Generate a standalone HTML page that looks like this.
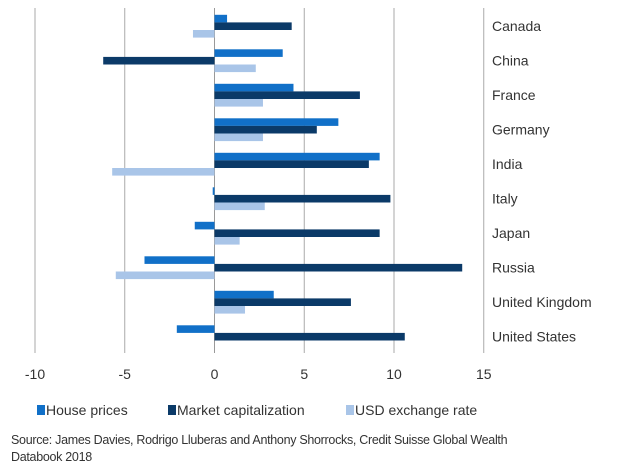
<!DOCTYPE html>
<html><head><meta charset="utf-8"><style>
body{margin:0;background:#fff;font-family:"Liberation Sans",sans-serif;}
#wrap{position:relative;width:620px;height:474px;overflow:hidden}
.src{position:absolute;left:11px;top:432px;font-size:12.5px;color:#333;line-height:17px;letter-spacing:-0.3px}
</style></head><body>
<div id="wrap">
<svg id="svg" width="620" height="474"></svg>
<div class="src">Source: James Davies, Rodrigo Lluberas and Anthony Shorrocks, Credit Suisse Global Wealth<br>Databook 2018</div>
</div>
<script>
const categories=["Canada","China","France","Germany","India","Italy","Japan","Russia","United Kingdom","United States"];
const housePrices=[0.7,3.8,4.4,6.9,9.2,-0.1,-1.1,-3.9,3.3,-2.1];
const marketCap=[4.3,-6.2,8.1,5.7,8.6,9.8,9.2,13.8,7.6,10.6];
const usdRate=[-1.2,2.3,2.7,2.7,-5.7,2.8,1.4,-5.5,1.7,0];
const ticks=[-10,-5,0,5,10,15];
const seriesNames=["House prices","Market capitalization","USD exchange rate"];
const colors=["#1170c8","#0b3a68","#a9c5e8"];
const NS="http://www.w3.org/2000/svg";
const svg=document.getElementById('svg');
const x0=214.5,unit=17.95,plotTop=8,band=34.5,bh=7.6,off=6.8;
const xs=v=>x0+v*unit;
function mk(t,a){const e=document.createElementNS(NS,t);for(const k in a)e.setAttribute(k,a[k]);svg.appendChild(e);return e;}
ticks.forEach(t=>{
 const l=mk('line',{x1:xs(t),x2:xs(t),y1:plotTop,y2:plotTop+band*10,stroke:t===0?'#999':'#aaa','stroke-width':1});
 
 
 const tx=mk('text',{x:xs(t),y:379,'text-anchor':'middle','font-size':14,fill:'#333'});
 tx.textContent=String(t);
 
 
});
const all=[housePrices,marketCap,usdRate];
categories.forEach((c,i)=>{
 all.forEach((s,j)=>{
  const v=s[i];
  const y=plotTop+i*band+off+j*bh;
  const r=mk('rect',{x:Math.min(xs(0),xs(v)),y:y,width:Math.abs(xs(v)-xs(0)),height:bh,fill:colors[j]});
  
  
 });
 const t=mk('text',{x:492,y:plotTop+i*band+off+bh*1.5+5,'font-size':14,fill:'#333'});
 t.textContent=c;
 
 
});
const lx=[37,168,346];
seriesNames.forEach((n,j)=>{
 const r=mk('rect',{x:lx[j],y:405,width:8,height:10,fill:colors[j]});
 
 
 const t=mk('text',{x:lx[j]+9,y:415,'font-size':14,fill:'#333'});
 t.textContent=n;
 
 
});
</script>
</body></html>
